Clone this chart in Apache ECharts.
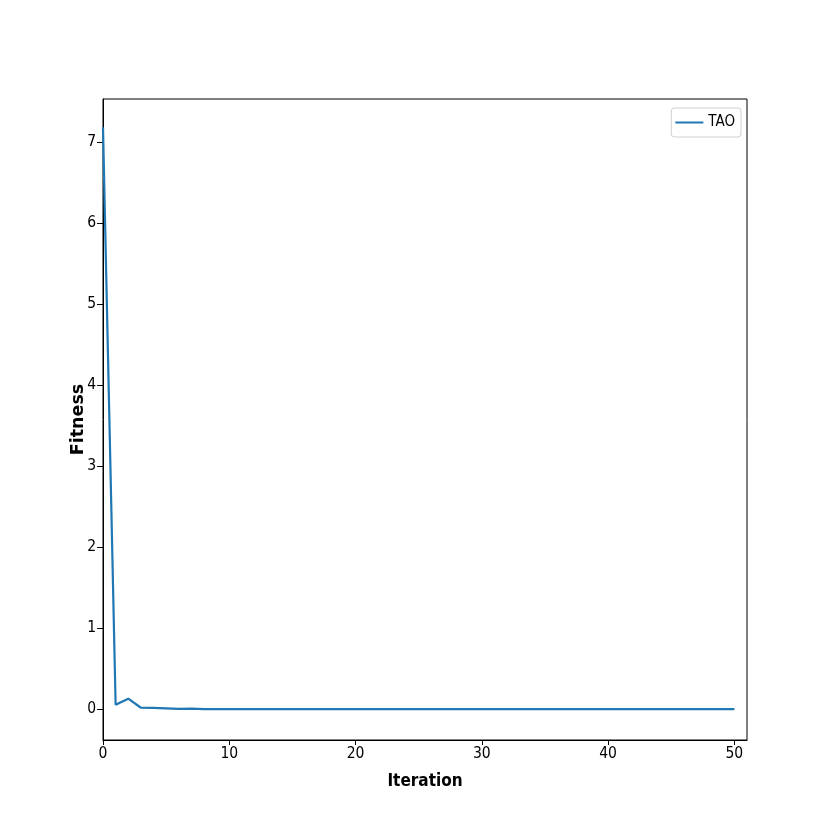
<!DOCTYPE html>
<html><head><meta charset="utf-8">
<script src="https://cdn.jsdelivr.net/npm/echarts@6/dist/echarts.min.js"></script>
<style>html,body{margin:0;padding:0;background:#fff}#c{width:830px;height:830px}</style>
</head><body><div id="c"></div>
<script>
const iterations = [0,1,2,3,4,5,6,7,8,9,10,11,12,13,14,15,16,17,18,19,20,21,22,23,24,25,26,27,28,29,30,31,32,33,34,35,36,37,38,39,40,41,42,43,44,45,46,47,48,49,50];
const taoFitness = [7.18,0.055,0.13,0.018,0.016,0.01,0.003,0.007,0.001,0,0,0,0,0,0,0,0,0,0,0,0,0,0,0,0,0,0,0,0,0,0,0,0,0,0,0,0,0,0,0,0,0,0,0,0,0,0,0,0,0,0];
const xTicks = [0,10,20,30,40,50];
const yTicks = [0,1,2,3,4,5,6,7];
const seriesName = 'TAO';

const tickFont = {fontFamily:'DejaVu Sans Condensed', fontSize:15.5, color:'#000'};
const chart = echarts.init(document.getElementById('c'), null, {renderer:'canvas'});
chart.setOption({
  animation:false,
  grid:{left:103, right:83, top:99, bottom:90, show:true, borderColor:'#000', borderWidth:1, containLabel:false},
  legend:{
    data:[seriesName], right:89, top:108, orient:'vertical',
    backgroundColor:'#fff', borderColor:'#d0d0d0', borderWidth:1, borderRadius:3,
    padding:[7,6,7,4], itemWidth:28, itemHeight:10, itemGap:6,
    icon:'path://M0,4L28,4L28,6L0,6Z',
    textStyle:{fontFamily:'DejaVu Sans Condensed', fontSize:15, color:'#000'}
  },
  xAxis:{
    type:'value', min:0, max:51,
    name:'Iteration', nameLocation:'middle', nameGap:33, nameMoveOverlap:false,
    nameTextStyle:{fontFamily:'DejaVu Sans Condensed', fontWeight:'bold', fontSize:17, color:'#000'},
    axisLine:{show:true, onZero:false, lineStyle:{color:'#000', width:1}},
    axisTick:{show:true, length:5, lineStyle:{color:'#000'}, customValues:xTicks},
    axisLabel:{...tickFont, margin:6, customValues:xTicks},
    splitLine:{show:false}
  },
  yAxis:{
    type:'value', min:-0.38, max:7.53,
    name:'Fitness', nameLocation:'middle', nameGap:16, nameRotate:90, nameMoveOverlap:false,
    nameTextStyle:{fontFamily:'DejaVu Sans', fontWeight:'bold', fontSize:17.5, color:'#000'},
    axisLine:{show:true, onZero:false, lineStyle:{color:'#000', width:1}},
    axisTick:{show:true, length:6, lineStyle:{color:'#000'}, customValues:yTicks},
    axisLabel:{...tickFont, margin:7, customValues:yTicks},
    splitLine:{show:false}
  },
  series:[{
    name:seriesName, type:'line', showSymbol:false, symbol:'none',
    data: iterations.map((x,i)=>[x, taoFitness[i]]),
    lineStyle:{color:'#1f77b4', width:2.2}, itemStyle:{color:'#1f77b4'}
  }]
});
</script></body></html>
